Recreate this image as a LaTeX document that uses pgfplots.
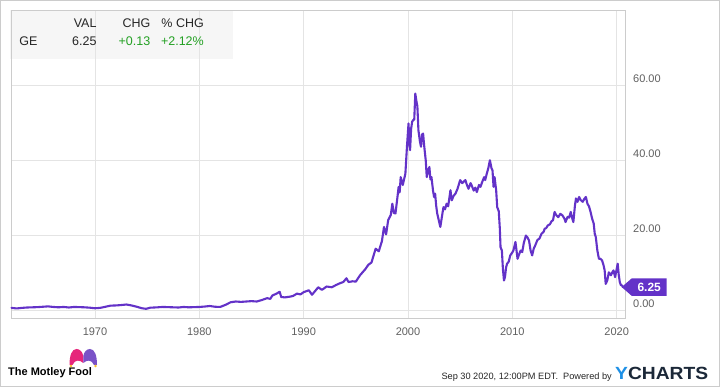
\documentclass[border=0pt]{standalone}
\usepackage{pgfplots}
\pgfplotsset{compat=1.18}
\usepackage{fontspec}
\setmainfont{Liberation Sans}
\usepackage{graphicx}
\definecolor{ge}{RGB}{99,50,200}
\definecolor{gridc}{RGB}{228,228,228}
\definecolor{framec}{RGB}{204,204,204}
\definecolor{tickc}{RGB}{96,96,96}
\definecolor{upg}{RGB}{34,160,34}
\definecolor{hdrbg}{RGB}{246,246,246}
\definecolor{ybl}{RGB}{30,144,230}
\definecolor{ynavy}{RGB}{27,40,56}
\definecolor{mfpink}{RGB}{230,38,123}
\definecolor{mfpurple}{RGB}{122,82,199}
\definecolor{mfyellow}{RGB}{250,190,40}
\pgfplotstableread{
year val
1962.0 0.7
1962.5 0.55
1963.0 0.7
1963.5 0.8
1964.0 0.85
1964.5 0.9
1965.0 1.0
1965.5 1.1
1966.0 0.95
1966.5 0.85
1967.0 0.95
1967.5 0.8
1968.0 0.95
1968.5 0.9
1969.0 0.85
1969.5 0.75
1970.0 0.6
1970.5 0.7
1971.0 1.0
1971.5 1.3
1972.0 1.35
1972.5 1.45
1973.0 1.6
1973.5 1.35
1974.0 1.0
1974.5 0.6
1974.9 0.45
1975.3 0.75
1976.0 0.85
1976.5 0.95
1977.0 0.9
1977.5 0.85
1978.0 0.8
1978.5 0.95
1979.0 0.85
1979.5 0.9
1980.0 0.95
1980.5 1.05
1981.0 1.2
1981.5 1.0
1982.0 0.95
1982.5 1.5
1983.0 2.2
1983.5 2.4
1984.0 2.3
1984.5 2.4
1985.0 2.5
1985.5 2.4
1986.0 2.8
1986.5 3.3
1986.8 3.1
1987.0 4.0
1987.4 4.5
1987.7 5.0
1987.85 3.6
1988.2 3.5
1988.7 3.7
1989.0 3.9
1989.35 4.5
1989.7 4.3
1990.0 4.9
1990.5 5.4
1990.8 4.2
1991.1 5.2
1991.4 6.2
1991.75 5.5
1992.2 6.4
1992.7 6.2
1993.1 6.8
1993.5 7.3
1993.8 7.6
1994.1 8.6
1994.3 7.6
1994.7 7.8
1995.0 7.7
1995.4 9.4
1995.9 11.0
1996.2 12.2
1996.5 12.8
1996.9 16.5
1997.2 15.8
1997.5 18.5
1997.7 22.3
1997.9 20.3
1998.1 24.1
1998.35 25.5
1998.5 28.5
1998.65 26.0
1998.8 25.9
1999.0 30.5
1999.1 33.0
1999.2 31.5
1999.3 35.6
1999.5 33.5
1999.75 36.5
1999.9 43.7
2000.05 49.9
2000.15 44.0
2000.2 42.8
2000.3 48.5
2000.4 50.4
2000.5 50.8
2000.6 51.0
2000.7 57.9
2000.8 56.0
2000.9 54.5
2001.0 48.1
2001.15 45.0
2001.25 43.7
2001.35 47.0
2001.45 47.2
2001.55 44.0
2001.7 40.1
2001.8 35.6
2001.95 37.5
2002.05 38.3
2002.15 35.0
2002.25 35.6
2002.4 32.0
2002.5 30.3
2002.6 31.2
2002.7 28.0
2002.8 25.9
2002.95 24.1
2003.1 22.3
2003.25 25.0
2003.4 27.6
2003.55 27.0
2003.7 28.5
2003.85 27.8
2004.07 32.1
2004.2 29.4
2004.35 30.5
2004.55 31.2
2004.75 32.5
2005.0 34.8
2005.2 34.0
2005.5 34.8
2005.65 33.5
2005.8 32.5
2006.0 34.0
2006.1 33.4
2006.3 32.0
2006.45 32.8
2006.6 31.6
2006.8 33.5
2006.95 33.0
2007.1 34.2
2007.3 35.6
2007.4 34.8
2007.55 36.5
2007.7 38.0
2007.85 40.1
2008.0 38.0
2008.1 37.4
2008.2 33.0
2008.3 35.6
2008.45 32.1
2008.55 27.6
2008.7 26.5
2008.8 22.0
2008.87 16.9
2009.0 16.0
2009.1 11.0
2009.2 8.0
2009.3 9.0
2009.4 11.5
2009.5 12.5
2009.65 13.0
2009.8 14.7
2010.0 15.5
2010.1 16.0
2010.3 18.3
2010.5 13.8
2010.65 15.0
2010.8 16.0
2010.95 15.6
2011.1 18.0
2011.3 20.0
2011.45 19.5
2011.6 18.7
2011.75 16.0
2011.9 14.7
2012.05 16.5
2012.2 17.4
2012.4 18.8
2012.6 19.2
2012.8 20.5
2013.0 21.0
2013.1 21.8
2013.25 22.0
2013.4 22.7
2013.6 23.0
2013.75 23.8
2013.9 24.1
2014.05 26.3
2014.2 25.5
2014.4 24.9
2014.6 25.8
2014.8 25.4
2015.0 24.5
2015.1 23.6
2015.3 25.0
2015.45 24.8
2015.6 26.3
2015.75 24.5
2015.85 23.6
2016.0 28.0
2016.1 29.9
2016.25 29.0
2016.4 30.3
2016.55 29.5
2016.75 29.0
2016.9 29.8
2017.05 30.3
2017.2 28.5
2017.35 27.8
2017.5 26.3
2017.65 24.5
2017.8 23.2
2017.9 20.5
2018.0 19.6
2018.15 16.0
2018.3 13.8
2018.45 13.8
2018.6 13.4
2018.75 12.0
2018.85 10.7
2018.95 7.1
2019.1 8.0
2019.25 10.2
2019.35 9.8
2019.45 9.4
2019.6 10.3
2019.7 10.7
2019.85 8.9
2020.0 11.0
2020.1 12.5
2020.2 9.5
2020.3 7.6
2020.4 6.8
2020.5 6.7
2020.6 6.3
2020.75 6.25
}\gedata
\begin{document}
\begin{tikzpicture}
\begin{scope}[x=1pt,y=1pt]
\path[use as bounding box] (0,0) rectangle (720,387);
\fill[white] (0,0) rectangle (720,387);
\fill[hdrbg] (10,328) rectangle (233,377);
\end{scope}
\begin{axis}[
  at={(11pt,68.7pt)}, anchor=south west,
  scale only axis, width=614pt, height=308.3pt,
  xmin=1961.95, xmax=2020.8, ymin=-2.08, ymax=80.2,
  axis line style={framec, line width=0.8pt},
  grid=major, major grid style={gridc, line width=0.8pt},
  xtick={1970,1980,1990,2000,2010,2020},
  xticklabels={1970,1980,1990,2000,2010,2020},
  ytick={0,20,40,60},
  yticklabels={0.00,20.00,40.00,60.00},
  major tick length=0pt,
  yticklabel pos=right,
  xticklabel style={anchor=base, inner sep=0pt, yshift=-17.7pt, font=\fontsize{11}{13}\selectfont, text=tickc},
  yticklabel style={anchor=base west, inner sep=0pt, xshift=8pt, yshift=3.3pt, font=\fontsize{11}{13}\selectfont, text=tickc},
  clip=false,
]
\addplot[ge, line width=2.1pt, line join=round, line cap=round] table[x=year,y=val] {\gedata};
\coordinate (E) at (axis cs:2020.75,6.25);
\end{axis}
\begin{scope}[shift={(E)}, x=1pt, y=1pt]
\fill[ge] (-2.8,0) -- (7.2,8.7) -- (42.2,8.7) -- (42.2,-8.7) -- (7.2,-8.7) -- cycle;
\node[text=white, font=\fontsize{12}{14}\selectfont\bfseries, inner sep=0pt] at (24.7,0) {6.25};
\end{scope}
\begin{scope}[x=1pt,y=1pt]
\draw[framec, line width=1.2pt] (0.6,0.6) rectangle (719.4,386.4);
% header
\node[anchor=base east, inner sep=0pt, font=\fontsize{12.5}{14}\selectfont, text=black!85] at (96.7,359.3) {VAL};
\node[anchor=base east, inner sep=0pt, font=\fontsize{12.5}{14}\selectfont, text=black!85] at (150.5,359.3) {CHG};
\node[anchor=base east, inner sep=0pt, font=\fontsize{12.5}{14}\selectfont, text=black!85] at (204,359.3) {\% CHG};
\node[anchor=base west, inner sep=0pt, font=\fontsize{12.5}{14}\selectfont, text=black!85] at (19.3,341.3) {GE};
\node[anchor=base east, inner sep=0pt, font=\fontsize{12.5}{14}\selectfont, text=black!85] at (96.7,341.3) {6.25};
\node[anchor=base east, inner sep=0pt, font=\fontsize{12.5}{14}\selectfont, text=upg] at (150.5,341.3) {+0.13};
\node[anchor=base east, inner sep=0pt, font=\fontsize{12.5}{14}\selectfont, text=upg] at (204,341.3) {+2.12\%};
% footer
\node[anchor=base east, inner sep=0pt, font=\fontsize{9.2}{11}\selectfont, text=black!85] at (612,7) {Sep 30 2020, 12:00PM EDT.\ \ Powered by};
\node[anchor=base west, inner sep=0pt] at (615,7) {\resizebox{93pt}{12.3pt}{\bfseries\textcolor{ybl}{Y}\textcolor{ynavy}{CHARTS}}};
\node[anchor=base west, inner sep=0pt, font=\fontsize{11}{13}\selectfont\bfseries, text=black] at (8,11) {The Motley Fool};
\fill[mfpink] (69.5,22) .. controls (69.5,32) and (72,38) .. (76.5,38) .. controls (80,38) and (82.5,35) .. (83.3,31) -- (83.3,24) .. controls (80,27) and (75,28) .. (72.5,22) -- cycle;
\fill[mfpurple] (97,22) .. controls (97,32) and (94.5,38) .. (90,38) .. controls (86.5,38) and (84,35) .. (83.3,31) -- (83.3,24) .. controls (86.5,27) and (91.5,28) .. (94,22) -- cycle;
\fill[mfyellow] (71,21) circle (1.3);
\fill[mfyellow] (95.5,21) circle (1.3);
\end{scope}
\end{tikzpicture}
\end{document}
